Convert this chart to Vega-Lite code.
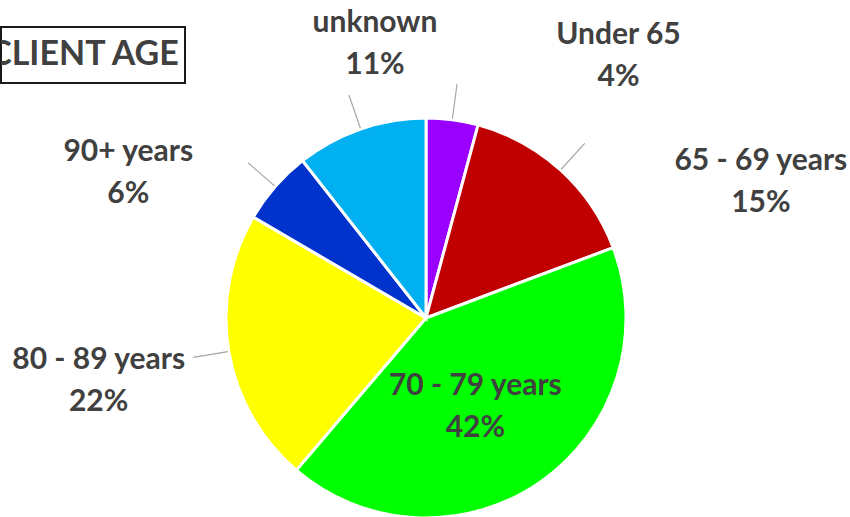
{
  "$schema": "https://vega.github.io/schema/vega-lite/v6.json",
  "autosize": {"type": "pad"},
  "padding": {"top": 7, "left": 0, "right": 0, "bottom": 0},
  "background": "#ffffff",
  "config": {"view": {"stroke": null}, "font": "Lato"},
  "spacing": 35,
  "bounds": "flush",
  "vconcat": [
    {
      "width": 184,
      "height": 56,
      "view": {"stroke": "#1a1a1a", "strokeWidth": 2},
      "data": {"values": [{"title": "CLIENT AGE"}]},
      "mark": {"type": "text", "font": "Lato", "fontWeight": "bold", "fontSize": 34, "fill": "#404040", "align": "center", "baseline": "middle", "dx": -9, "clip": true},
      "encoding": {"text": {"field": "title", "type": "nominal"}}
    },
    {
      "width": 850,
      "height": 400,
      "data": {"values": [
        {"cat": "Under 65", "value": 0.042, "idx": 1},
        {"cat": "65 - 69 years", "value": 0.151, "idx": 2},
        {"cat": "70 - 79 years", "value": 0.42, "idx": 3},
        {"cat": "80 - 89 years", "value": 0.222, "idx": 4},
        {"cat": "90+ years", "value": 0.06, "idx": 5},
        {"cat": "unknown", "value": 0.106, "idx": 6}
      ]},
      "transform": [{"calculate": "datum.cat + '\\n' + format(datum.value, '.0%')", "as": "label"}],
      "encoding": {
        "theta": {"field": "value", "type": "quantitative", "stack": true},
        "order": {"field": "idx", "type": "quantitative"},
        "detail": {"field": "cat", "type": "nominal"}
      },
      "layer": [
        {
          "mark": {"type": "arc", "stroke": "#ffffff", "strokeWidth": 3},
          "encoding": {
            "color": {"field": "cat", "type": "nominal", "legend": null,
              "scale": {"domain": ["Under 65", "65 - 69 years", "70 - 79 years", "80 - 89 years", "90+ years", "unknown"],
                        "range": ["#9900ff", "#c00000", "#00ff00", "#ffff00", "#0033cc", "#00b0f0"]}}
          }
        },
        {
          "mark": {"type": "arc", "radius": 236, "radius2": 201, "padAngle": 3, "fill": "transparent", "stroke": "#a6a6a6", "strokeWidth": 1.2},
          "encoding": {"strokeOpacity": {"condition": {"test": "datum.cat === '70 - 79 years'", "value": 0}, "value": 1}}
        },
        {
          "mark": {"type": "text", "radius": 270, "dx": 157, "dy": -15, "font": "Lato", "fontWeight": "bold", "fill": "#404040", "lineBreak": "\n", "lineHeight": 42, "align": "center", "baseline": "middle"},
          "encoding": {
            "text": {"condition": {"test": "datum.cat === 'Under 65'", "field": "label", "type": "nominal"}, "value": ""},
            "size": {"condition": {"test": "datum.cat === 'Under 65'", "value": 30}, "value": 0}
          }
        },
        {
          "mark": {"type": "text", "radius": 260, "dx": 160, "dy": 35, "font": "Lato", "fontWeight": "bold", "fill": "#404040", "lineBreak": "\n", "lineHeight": 42, "align": "center", "baseline": "middle"},
          "encoding": {
            "text": {"condition": {"test": "datum.cat === '65 - 69 years'", "field": "label", "type": "nominal"}, "value": ""},
            "size": {"condition": {"test": "datum.cat === '65 - 69 years'", "value": 30}, "value": 0}
          }
        },
        {
          "mark": {"type": "text", "radius": 105, "dx": -11, "dy": -18, "font": "Lato", "fontWeight": "bold", "fill": "#404040", "lineBreak": "\n", "lineHeight": 42, "align": "center", "baseline": "middle"},
          "encoding": {
            "text": {"condition": {"test": "datum.cat === '70 - 79 years'", "field": "label", "type": "nominal"}, "value": ""},
            "size": {"condition": {"test": "datum.cat === '70 - 79 years'", "value": 30}, "value": 0}
          }
        },
        {
          "mark": {"type": "text", "radius": 260, "dx": -71, "dy": -1, "font": "Lato", "fontWeight": "bold", "fill": "#404040", "lineBreak": "\n", "lineHeight": 42, "align": "center", "baseline": "middle"},
          "encoding": {
            "text": {"condition": {"test": "datum.cat === '80 - 89 years'", "field": "label", "type": "nominal"}, "value": ""},
            "size": {"condition": {"test": "datum.cat === '80 - 89 years'", "value": 30}, "value": 0}
          }
        },
        {
          "mark": {"type": "text", "radius": 330, "dx": -49, "dy": 51, "font": "Lato", "fontWeight": "bold", "fill": "#404040", "lineBreak": "\n", "lineHeight": 42, "align": "center", "baseline": "middle"},
          "encoding": {
            "text": {"condition": {"test": "datum.cat === '90+ years'", "field": "label", "type": "nominal"}, "value": ""},
            "size": {"condition": {"test": "datum.cat === '90+ years'", "value": 30}, "value": 0}
          }
        },
        {
          "mark": {"type": "text", "radius": 285, "dx": 42, "dy": -26, "font": "Lato", "fontWeight": "bold", "fill": "#404040", "lineBreak": "\n", "lineHeight": 42, "align": "center", "baseline": "middle"},
          "encoding": {
            "text": {"condition": {"test": "datum.cat === 'unknown'", "field": "label", "type": "nominal"}, "value": ""},
            "size": {"condition": {"test": "datum.cat === 'unknown'", "value": 30}, "value": 0}
          }
        }
      ]
    }
  ]
}
